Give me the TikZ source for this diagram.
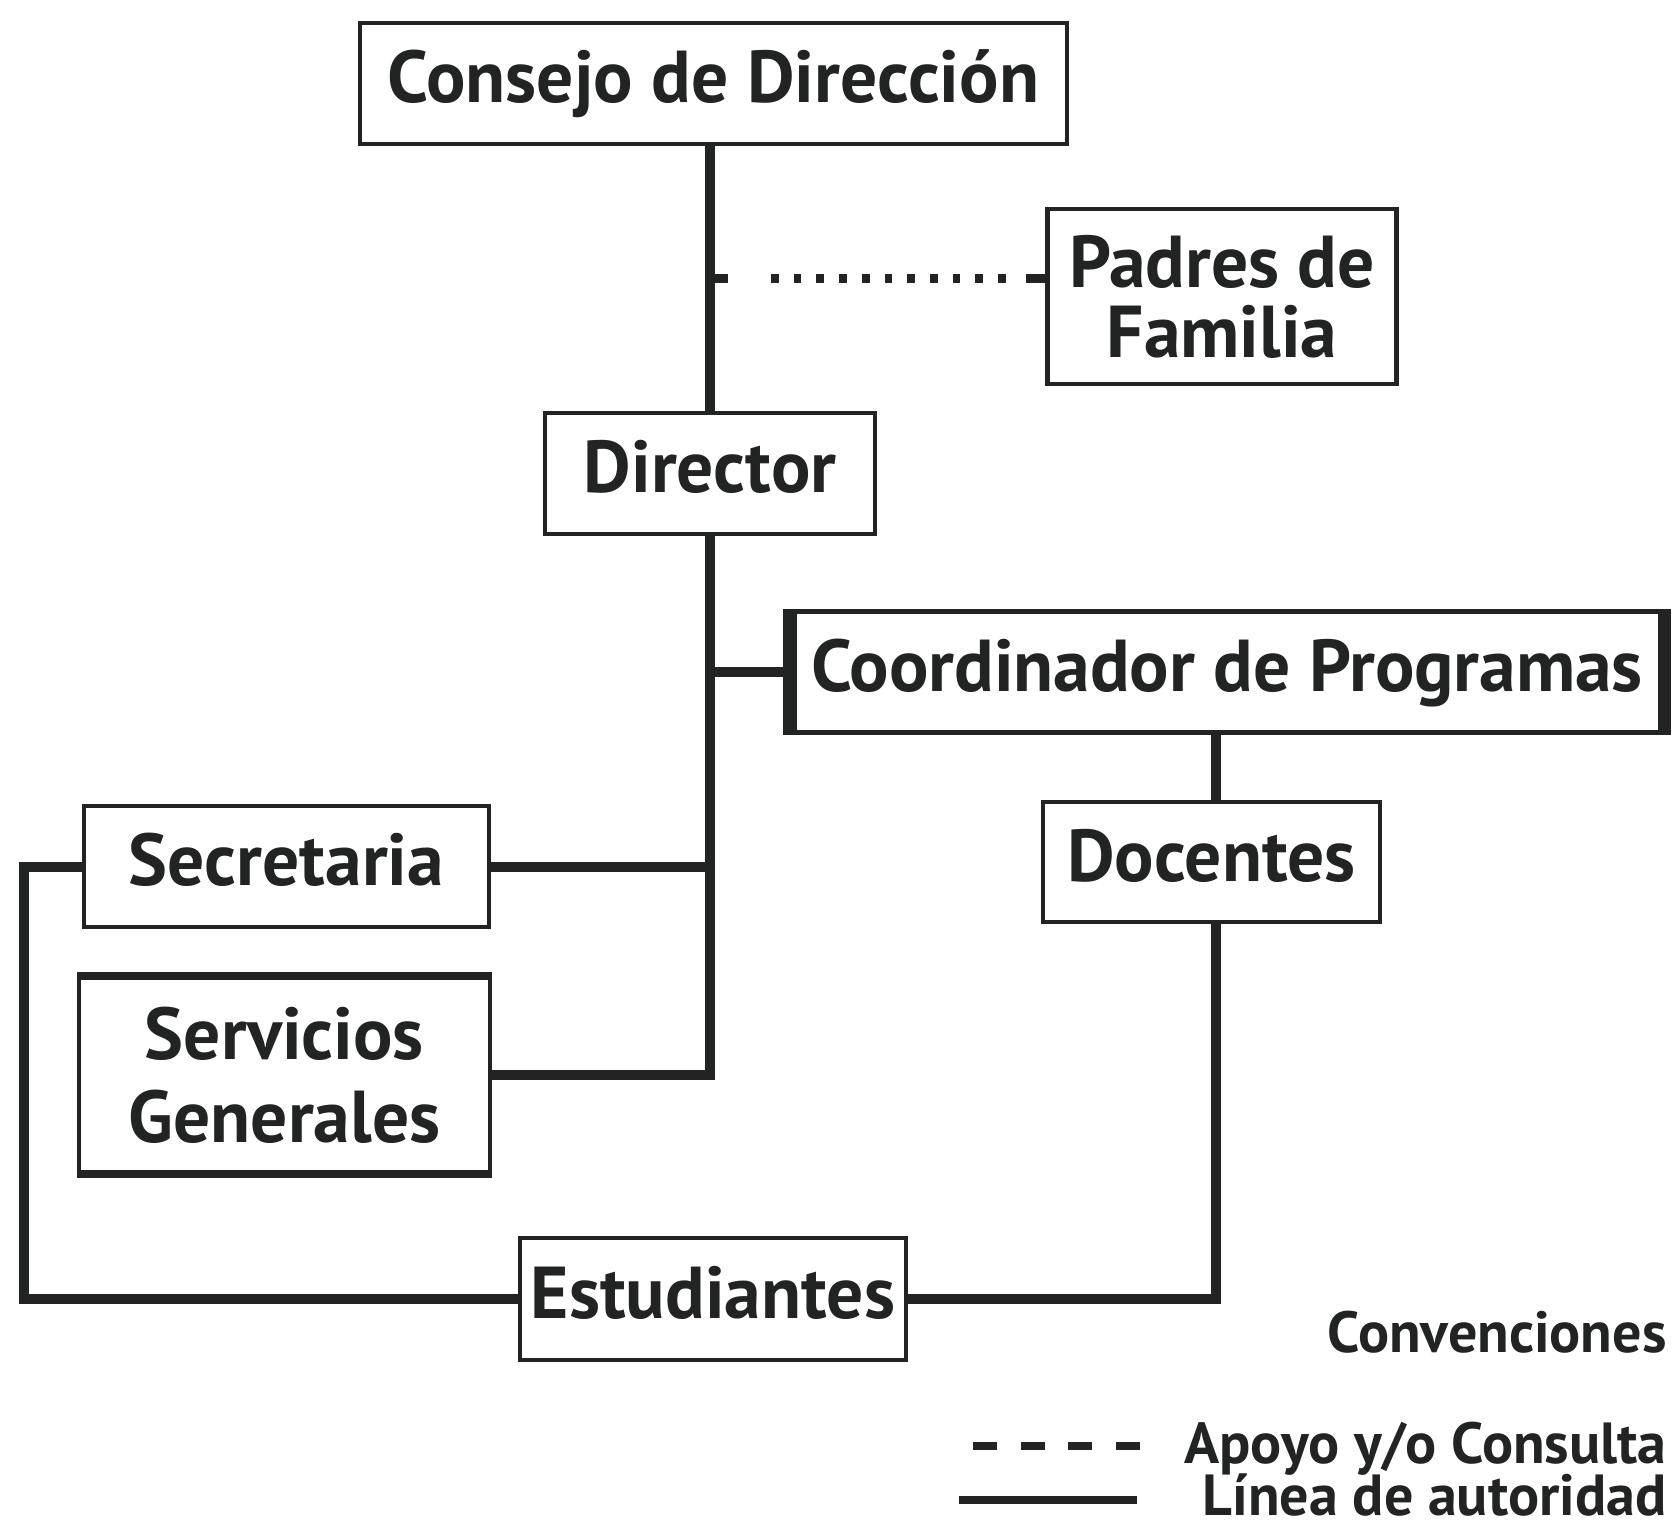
\documentclass[tikz,border=0pt]{standalone}
\usepackage{fontspec}
\setmainfont{PT Sans}
\definecolor{tinta}{RGB}{34,36,35}
\begin{document}
\begin{tikzpicture}[x=1pt,y=-1pt,color=tinta,
    unidad/.style={draw,line width=4.3pt,inner sep=0pt,outer sep=0pt,font=\bfseries\fontsize{73.5}{73.5}\selectfont,text height=50pt,text depth=12pt},
    dos/.style={draw,line width=4.3pt,inner sep=0pt,outer sep=0pt,align=center},
    linea/.style={line width=10pt},
    apoyo/.style={line width=9pt,dash pattern=on 7.7pt off 15pt},
    conv/.style={anchor=base east,font=\bfseries\fontsize{58}{58}\selectfont,text depth=0pt}]
\useasboundingbox (0,0) rectangle (1678,1522);
% cajas
\node[unidad,minimum width=707pt,minimum height=121pt] (consejo) at (713.5,83.5) {Consejo de Dirección};
\node[dos,minimum width=349pt,minimum height=175pt,font=\bfseries\fontsize{73.5}{70}\selectfont] (padres) at (1222,296.5) {Padres de\\Familia};
\node[unidad,minimum width=330pt,minimum height=121pt] (director) at (710,473.5) {Director};
\node[unidad,line width=5pt,minimum width=883pt,minimum height=121pt] (coord) at (1227,672) {Coordinador de Programas};
\node[unidad,minimum width=337pt,minimum height=120pt] (docentes) at (1211.5,862) {Docentes};
\node[unidad,minimum width=405pt,minimum height=121pt] (secretaria) at (286.5,866.5) {Secretaria};
\node[dos,line width=4pt,minimum width=411pt,minimum height=202pt,font=\bfseries\fontsize{73.5}{83}\selectfont] (servicios) at (284.5,1075) {Servicios\\Generales};
\node[unidad,minimum width=386pt,minimum height=122pt] (estudiantes) at (713,1299) {Estudiantes};
% bordes gruesos
\draw[line width=14pt] ([shift={(4.5pt,2.5pt)}]coord.north west) -- ([shift={(4.5pt,-2.5pt)}]coord.south west);
\draw[line width=13pt] ([shift={(-4pt,2.5pt)}]coord.north east) -- ([shift={(-4pt,-2.5pt)}]coord.south east);
\draw[line width=8.3pt] ([shift={(-2pt,-2pt)}]servicios.north west) -- ([shift={(2pt,-2pt)}]servicios.north east);
\draw[line width=8.3pt] ([shift={(-2pt,2pt)}]servicios.south west) -- ([shift={(2pt,2pt)}]servicios.south east);
% lineas de autoridad
\draw[linea] (consejo.south -| director.north) -- (director.north);
\draw[linea] (director.south) |- (servicios.east);
\draw[linea] (coord.west) -- (coord.west -| director.south);
\draw[linea] (secretaria.east) -- (secretaria.east -| director.south);
\draw[linea] ([xshift=4.5pt]coord.south -| docentes.north) -- ([xshift=4.5pt]docentes.north);
\draw[linea] (secretaria.west) -- ++(-60,0) |- (estudiantes.west);
\draw[linea] (estudiantes.east) -| ([xshift=4.5pt]docentes.south);
% apoyo
\coordinate (a1) at (director.north |- 0,278.5);
\coordinate (a2) at (padres.west |- a1);
\draw[linea,line width=9pt] (a1) -- ++(18,0);
\draw[apoyo] ([xshift=61pt]a1) -- ([xshift=-41pt]a2);
\draw[linea,line width=9pt] (a2) -- ++(-22,0);
% convenciones
\node[conv] (tconv) at (1670,1352) {Convenciones};
\node[conv] (tapoyo) at (1670,1463) {Apoyo y/o Consulta};
\node[conv] (tlinea) at (1670,1515) {Línea de autoridad};
\draw[line width=8pt,dash pattern=on 24pt off 23.6pt] (973,1446) -- (1140,1446);
\draw[line width=8pt] (959,1500) -- (1137,1500);
\end{tikzpicture}
\end{document}
